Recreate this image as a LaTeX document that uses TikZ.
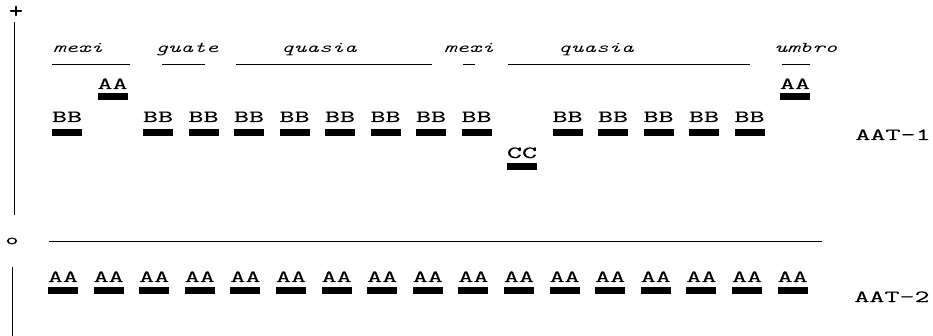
\documentclass[tikz,border=0pt]{standalone}
\usepackage{graphicx}
\usepackage{fontspec}
\newfontfamily\typefam{Latin Modern Mono}[FakeBold=0.15]
\newcommand{\stx}[1]{\scalebox{1.72}[1]{#1}}
\newcommand{\sti}[1]{\scalebox{1.6}[1]{#1}}
\begin{document}
\begin{tikzpicture}[x=1pt,y=-1pt,
  lab/.style={font=\typefam\fontsize{17}{17}\selectfont, inner sep=0pt, anchor=base},
  tax/.style={font=\ttfamily\itshape\fontsize{15}{15}\selectfont, inner sep=0pt, anchor=base},
  bar/.style={fill=black, minimum width=30pt, minimum height=7pt, inner sep=0pt, anchor=north},
  rule/.style={line width=0.8pt},
  axis/.style={line width=1.1pt}]
\useasboundingbox (0,0) rectangle (933,336);
% axis
\node[lab, anchor=center, font=\typefam\fontsize{24}{24}\selectfont] (plus) at (16,12) {\scalebox{1.2}[1]{+}};
\node[lab, anchor=center, font=\typefam\fontsize{15}{15}\selectfont] (zero) at (12,241) {\scalebox{1.7}[1]{o}};
\coordinate (a1) at (14.5,22);
\coordinate (a2) at (14.5,215);
\coordinate (a3) at (12.5,267);
\coordinate (a4) at (12.5,336);
\draw[axis] (a1) -- (a2);
\draw[axis] (a3) -- (a4);
% taxon labels
\node[tax] (t1) at (78,53) {\sti{mexi}};
\node[tax] (t2) at (187,53) {\sti{guate}};
\node[tax] (t3) at (319,53) {\sti{quasia}};
\node[tax] (t4) at (469,53) {\sti{mexi}};
\node[tax] (t5) at (596,53) {\sti{quasia}};
\node[tax] (t6) at (806,53) {\sti{umbro}};
% underlines
\foreach \n/\xa/\xb in {1/52/130, 2/162/205, 3/236/432, 4/463/475, 5/508/750, 6/782/810}{
  \coordinate (s\n) at (\xa,64);
  \coordinate (e\n) at (\xb,64);
  \draw[rule] (s\n) -- (e\n);
}
% top row of bands
\foreach \i/\t/\yb/\yt in {0/BB/122/129, 1/AA/89/92.5, 2/BB/122/129, 3/BB/122/129,
  4/BB/122/129, 5/BB/122/129, 6/BB/122/129, 7/BB/122/129, 8/BB/122/129, 9/BB/122/129,
  10/CC/158/163, 11/BB/122/129, 12/BB/122/129, 13/BB/122/129, 14/BB/122/129,
  15/BB/122/129, 16/AA/89/92.5}{
  \node[bar] (u\i) at ({67+45.5*\i},\yt) {};
  \node[lab] (ul\i) at ({67+45.5*\i},\yb) {\stx{\t}};
}
\node[lab] (aat1) at (893,140) {\stx{AAT-1}};
% zero line
\coordinate (z1) at (49,241);
\coordinate (z2) at (822,241);
\draw[rule] (z1) -- (z2);
% bottom row of bands
\foreach \j in {0,...,16}{
  \node[bar] (d\j) at ({63+45.6*\j},287) {};
  \node[lab] (dl\j) at ({63+45.6*\j},282) {\stx{AA}};
}
\node[lab] (aat2) at (892,302) {\stx{AAT-2}};
\end{tikzpicture}
\end{document}
